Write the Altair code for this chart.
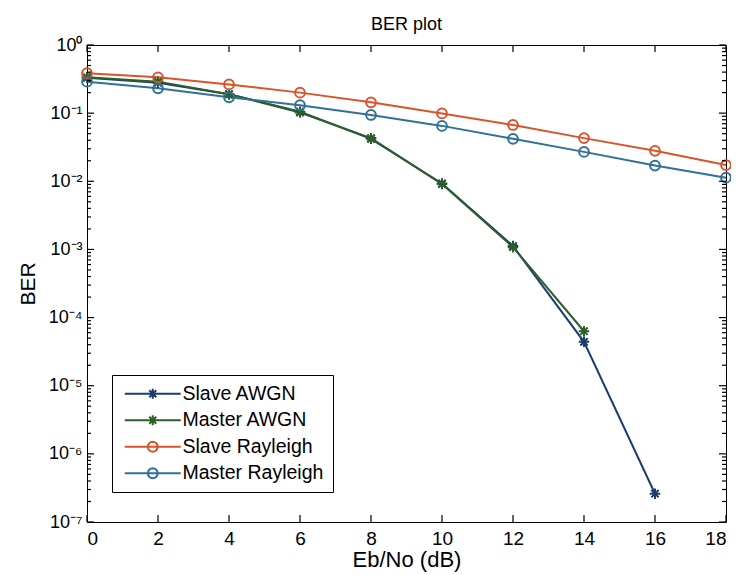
import altair as alt
import pandas as pd

# ---- data ----
ebno = [0, 2, 4, 6, 8, 10, 12, 14, 16, 18]
series_names = ["Slave AWGN", "Master AWGN", "Slave Rayleigh", "Master Rayleigh"]
slave_awgn = [0.33, 0.28, 0.19, 0.105, 0.042, 0.0093, 0.00112, 4.4e-5, 2.6e-7]
master_awgn = [0.335, 0.29, 0.19, 0.102, 0.043, 0.0091, 0.00108, 6.3e-5]
slave_rayleigh = [0.385, 0.335, 0.264, 0.200, 0.144, 0.099, 0.067, 0.043, 0.028, 0.0173]
master_rayleigh = [0.29, 0.231, 0.171, 0.131, 0.094, 0.065, 0.042, 0.027, 0.017, 0.0113]
series_colors = ["#1c3c6e", "#2e5f2b", "#d9542a", "#2f7197"]

x_ticks = [0, 2, 4, 6, 8, 10, 12, 14, 16, 18]
y_decades = [1e-7, 1e-6, 1e-5, 1e-4, 1e-3, 1e-2, 1e-1, 1]
y_minor_mult = [2, 3, 4, 5, 6, 7, 8, 9]
y_minor_vals = [m * d for d in y_decades[:-1] for m in y_minor_mult]

rows = []
for name, vals in zip(series_names, [slave_awgn, master_awgn, slave_rayleigh, master_rayleigh]):
    for x, v in zip(ebno, vals):
        rows.append({"ebno": x, "ber": v, "series": name})
df = pd.DataFrame(rows)
df_xt = pd.DataFrame({"v": x_ticks})
df_ymaj = pd.DataFrame({"v": y_decades})
df_ymin = pd.DataFrame({"v": y_minor_vals})

W, H = 639, 477
FONT = "Liberation Sans"

STAR = "M-1,0L1,0M0,-1L0,1M-0.7,-0.7L0.7,0.7M-0.7,0.7L0.7,-0.7"
LEG_STAR = "M-1.2,0L10,0M3.4,0L5.4,0M4.4,-1L4.4,1M3.7,-0.7L5.1,0.7M3.7,0.7L5.1,-0.7"
LEG_CIRC = ("M-1.2,0L10,0M5.4,0L5.27,0.5L4.9,0.87L4.4,1L3.9,0.87L3.53,0.5L3.4,0"
            "L3.53,-0.5L3.9,-0.87L4.4,-1L4.9,-0.87L5.27,-0.5Z")

x_scale = alt.Scale(domain=[0, 18], nice=False, zero=False)
y_scale = alt.Scale(type="log", domain=[1e-7, 1], nice=False)
color_scale = alt.Scale(domain=series_names, range=series_colors)

sup = "['\u2070','\u207b\u00b9','\u207b\u00b2','\u207b\u00b3','\u207b\u2074','\u207b\u2075','\u207b\u2076','\u207b\u2077']"
label_expr = "'10' + " + sup + "[round(-log(datum.value)/LN10)]"

base = alt.Chart(df)

lines = base.mark_line(strokeWidth=2).encode(
    x=alt.X("ebno:Q", scale=x_scale,
            axis=alt.Axis(values=x_ticks, ticks=False, domain=False, grid=False,
                          labelFontSize=19, labelPadding=7, labelFont=FONT,
                          title="Eb/No (dB)", titleFontSize=22, titleFont=FONT,
                          titleFontWeight="normal", titleY=37, titleX=W / 2,
                          titleBaseline="middle", titleAlign="center")),
    y=alt.Y("ber:Q", scale=y_scale,
            axis=alt.Axis(values=y_decades, labelExpr=label_expr, ticks=False,
                          domain=False, grid=False, labelFontSize=18, labelPadding=5,
                          labelFont=FONT, title="BER", titleFontSize=21, titleFont=FONT,
                          titleFontWeight="normal", titleX=-59, titleY=H / 2,
                          titleBaseline="middle", titleAlign="center")),
    color=alt.Color("series:N", scale=color_scale, legend=None),
)

stars = base.transform_filter(
    alt.FieldOneOfPredicate(field="series", oneOf=["Slave AWGN", "Master AWGN"])
).mark_point(shape=STAR, size=110, strokeWidth=2, filled=False, opacity=1).encode(
    x=alt.X("ebno:Q", scale=x_scale, axis=None),
    y=alt.Y("ber:Q", scale=y_scale, axis=None),
    color=alt.Color("series:N", scale=color_scale, legend=None),
)

circles = base.transform_filter(
    alt.FieldOneOfPredicate(field="series", oneOf=["Slave Rayleigh", "Master Rayleigh"])
).mark_point(shape="circle", size=95, strokeWidth=2, filled=False, opacity=1).encode(
    x=alt.X("ebno:Q", scale=x_scale, axis=None),
    y=alt.Y("ber:Q", scale=y_scale, axis=None),
    color=alt.Color("series:N", scale=color_scale, legend=None),
)

leg = alt.Legend(title=None, orient="none", legendX=25, legendY=330, direction="vertical",
                 padding=9, strokeColor="black", fillColor="white", labelFontSize=19.5,
                 labelFont=FONT, labelColor="black", labelOffset=42, rowPadding=5.5,
                 symbolStrokeWidth=2, symbolSize=100, symbolOpacity=1)

# legend-only layer: real rows moved far below the plot and clipped away
legend_layer = base.transform_calculate(hidden="1e-12").mark_point(
    filled=False, size=100, strokeWidth=2, clip=True
).encode(
    x=alt.X("ebno:Q", scale=x_scale, axis=None),
    y=alt.Y("hidden:Q", scale=y_scale, axis=None),
    color=alt.Color("series:N", scale=color_scale, legend=leg),
    shape=alt.Shape("series:N",
                    scale=alt.Scale(domain=series_names,
                                    range=[LEG_STAR, LEG_STAR, LEG_CIRC, LEG_CIRC]),
                    legend=leg),
)


def y_ticks(data, xc, length):
    return alt.Chart(data).mark_tick(color="black", thickness=1.2, size=length,
                                     orient="horizontal", opacity=1).encode(
        y=alt.Y("v:Q", scale=y_scale, axis=None),
        x=alt.value(xc),
    )


def x_ticks_layer(yc):
    return alt.Chart(df_xt).mark_tick(color="black", thickness=1.2, size=7,
                                      orient="vertical", opacity=1).encode(
        x=alt.X("v:Q", scale=x_scale, axis=None),
        y=alt.value(yc),
    )


tick_layers = [
    y_ticks(df_ymaj, 3.5, 7), y_ticks(df_ymaj, W - 3.5, 7),
    y_ticks(df_ymin, 2, 4), y_ticks(df_ymin, W - 2, 4),
    x_ticks_layer(H - 3.5), x_ticks_layer(3.5),
]

chart = alt.layer(lines, stars, circles, legend_layer, *tick_layers).resolve_axis(
    x="independent", y="independent"
).resolve_legend(color="independent", shape="independent").properties(
    width=W, height=H,
    title=alt.TitleParams("BER plot", fontSize=18, fontWeight="normal", font=FONT,
                          color="black", anchor="middle", offset=2),
    autosize=alt.AutoSizeParams(type="none"),
    padding={"left": 79, "top": 37, "right": 5, "bottom": 53},
).configure_view(stroke="black", strokeWidth=1).configure_axis(
    labelColor="black", titleColor="black"
)

chart.save("out.html", embed_options={"renderer": "svg", "actions": False})
